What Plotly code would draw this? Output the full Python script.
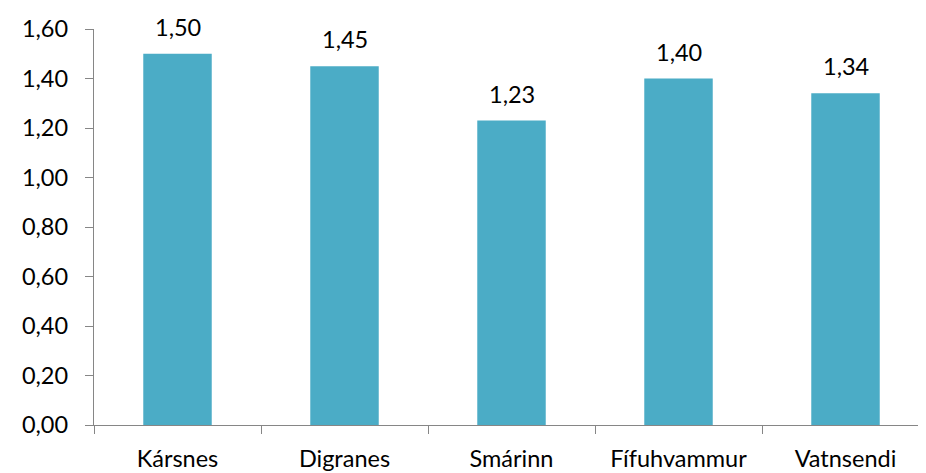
import plotly.graph_objects as go

categories = ["Kársnes", "Digranes", "Smárinn", "Fífuhvammur", "Vatnsendi"]
values = [1.50, 1.45, 1.23, 1.40, 1.34]
y_ticks = [0, 0.2, 0.4, 0.6, 0.8, 1.0, 1.2, 1.4, 1.6]
y_tick_labels = [f"{v:.2f}".replace(".", ",") for v in y_ticks]
value_labels = [f"{v:.2f}".replace(".", ",") for v in values]

FONT = "Lato"
FS = 23.5
fig = go.Figure(go.Bar(
    x=categories, y=values,
    marker=dict(color="#4BACC6", line=dict(width=0)), width=0.41,
))
for c, v, t in zip(categories, values, value_labels):
    fig.add_annotation(x=c, y=v, text=t, showarrow=False, yanchor="bottom",
                       yshift=11, font=dict(family=FONT, size=FS, color="#000000"))

# the page body adds an 8px offset, so margins are compensated
fig.update_layout(
    width=926, height=473,
    margin=dict(l=86, r=5, t=21, b=56),
    plot_bgcolor="white", paper_bgcolor="white",
    showlegend=False,
    font=dict(family=FONT, size=FS, color="#000000"),
)
fig.update_yaxes(
    range=[0, 1.6], tickvals=y_ticks, ticktext=y_tick_labels, automargin=False,
    showgrid=False, zeroline=False, showline=True, linecolor="#868686", linewidth=1.3,
    ticks="outside", ticklen=8, tickcolor="#868686", tickwidth=1.3,
    ticklabelstandoff=12,
    tickfont=dict(family=FONT, size=FS, color="#000000"),
)
fig.update_xaxes(
    showgrid=False, showline=True, linecolor="#868686", linewidth=1.3, automargin=False,
    ticks="outside", ticklen=8, tickcolor="#868686", tickwidth=1.3, tickson="boundaries",
    ticklabelstandoff=13,
    tickfont=dict(family=FONT, size=FS, color="#000000"),
)
fig.write_html("out.html")
